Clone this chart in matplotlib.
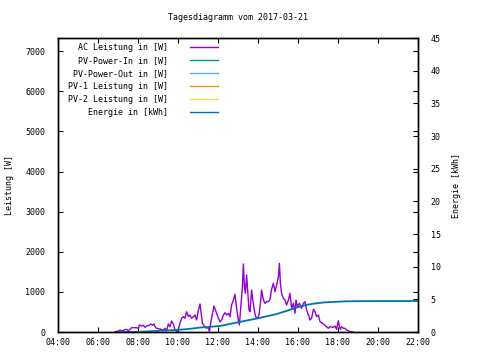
import matplotlib
matplotlib.use("Agg")
import matplotlib.pyplot as plt
from matplotlib.lines import Line2D

title = "Tagesdiagramm vom 2017-03-21"
series_names = ["AC Leistung in [W]", "PV-Power-In in [W]", "PV-Power-Out in [W]",
                "PV-1 Leistung in [W]", "PV-2 Leistung in [W]", "Energie in [kWh]"]
series_colors = ["#9400d3", "#009e73", "#56b4e9", "#e69f00", "#f0e442", "#0072b2"]

x_ticks = [4, 6, 8, 10, 12, 14, 16, 18, 20, 22]
x_ticklabels = ["04:00", "06:00", "08:00", "10:00", "12:00", "14:00", "16:00", "18:00", "20:00", "22:00"]
y1_ticks = [0, 1000, 2000, 3000, 4000, 5000, 6000, 7000]
y2_ticks = [0, 5, 10, 15, 20, 25, 30, 35, 40, 45]

ac_hours = [6.85, 7.02, 7.1, 7.18, 7.3, 7.43, 7.52, 7.6, 7.68, 7.93, 8.02, 8.07, 8.18, 8.27, 8.35,
            8.43, 8.57, 8.63, 8.73, 8.8, 8.85, 8.93, 9.1, 9.27, 9.35, 9.43, 9.52, 9.6, 9.68, 9.77,
            9.85, 9.93, 10.02, 10.1, 10.18, 10.27, 10.35, 10.43, 10.52, 10.6, 10.68, 10.77, 10.85,
            10.93, 11.02, 11.1, 11.15, 11.22, 11.35, 11.43, 11.52, 11.57, 11.63, 11.73, 11.8, 11.9,
            12.02, 12.1, 12.18, 12.27, 12.35, 12.43, 12.52, 12.6, 12.68, 12.77, 12.85, 12.93, 13.02,
            13.07, 13.13, 13.22, 13.27, 13.32, 13.37, 13.43, 13.48, 13.55, 13.6, 13.68, 13.73, 13.8,
            13.88, 13.97, 14.05, 14.13, 14.18, 14.27, 14.35, 14.43, 14.52, 14.6, 14.68, 14.77, 14.85,
            14.93, 15.02, 15.07, 15.12, 15.18, 15.27, 15.35, 15.43, 15.52, 15.6, 15.68, 15.77, 15.85,
            15.9, 15.97, 16.07, 16.18, 16.27, 16.35, 16.43, 16.52, 16.6, 16.68, 16.77, 16.85, 16.93,
            17.02, 17.1, 17.27, 17.43, 17.52, 17.6, 17.77, 17.85, 17.93, 18.02, 18.07, 18.13, 18.18,
            18.27, 18.35, 18.43, 18.52, 18.6, 18.68, 18.77]
ac_watts = [7, 25, 50, 25, 50, 67, 25, 67, 107, 107, 92, 175, 150, 167, 117,
            150, 167, 200, 167, 200, 132, 92, 75, 50, 92, 32, 200, 132, 275, 200,
            50, 7, 75, 217, 342, 382, 342, 506, 382, 424, 342, 382, 424,
            300, 549, 698, 506, 217, 117, 92, 117, 7, 217, 466, 648, 506,
            342, 257, 300, 424, 481, 424, 466, 382, 673, 798, 940, 591, 300,
            175, 549, 1130, 1696, 1130, 965, 1422, 1047, 549, 506, 1047, 840, 591,
            382, 342, 424, 756, 1047, 798, 716, 756, 756, 815, 1065, 1215, 1005,
            1172, 1380, 1713, 1215, 965, 840, 798, 673, 798, 965, 591, 716, 466,
            798, 631, 716, 591, 716, 756, 549, 424, 300, 342, 566, 506, 382,
            424, 257, 200, 132, 92, 132, 117, 150, 67, 282, 132, 67, 132,
            92, 92, 50, 32, 7, 0, 0]

pv_in_hours, pv_in_watts = [], []
pv_out_hours, pv_out_watts = [], []
pv1_hours, pv1_watts = [], []
pv2_hours, pv2_watts = [], []

energy_hours = [7.0, 8.0, 8.85, 9.85, 10.5, 11.1, 12.1, 13.1, 14.0, 14.93, 15.6, 16.1, 16.6,
                16.93, 17.35, 18.35, 19.0, 22.0]
energy_kwh = [0.0, 0.02, 0.15, 0.3, 0.45, 0.68, 0.92, 1.55, 2.1, 2.75, 3.4, 3.9, 4.25,
              4.4, 4.54, 4.69, 4.72, 4.74]

FONT = "DejaVu Sans Mono"
FS = 6.0

fig = plt.figure(figsize=(4.8, 3.6), dpi=100)
ax = fig.add_axes([58/480, 28/360, 360/480, 294/360])
ax2 = ax.twinx()

ax.plot(pv_in_hours, pv_in_watts, color=series_colors[1], lw=1)
ax.plot(pv_out_hours, pv_out_watts, color=series_colors[2], lw=1)
ax.plot(pv1_hours, pv1_watts, color=series_colors[3], lw=1)
ax.plot(pv2_hours, pv2_watts, color=series_colors[4], lw=1)
ax.plot(ac_hours, ac_watts, color=series_colors[0], lw=1)
ax2.plot(energy_hours, energy_kwh, color=series_colors[5], lw=1.3)

ax.set_xlim(4, 22)
ax.set_ylim(0, 7330)
ax2.set_ylim(0, 45)

ax.set_xticks(x_ticks)
ax.set_xticklabels(x_ticklabels, fontfamily=FONT, fontsize=FS)
ax.set_yticks(y1_ticks)
ax.set_yticklabels([str(v) for v in y1_ticks], fontfamily=FONT, fontsize=FS)
ax2.set_yticks(y2_ticks)
ax2.set_yticklabels([str(v) for v in y2_ticks], fontfamily=FONT, fontsize=FS)

ax.tick_params(axis="both", direction="in", length=3.5, width=0.8, top=True, right=True)
ax.tick_params(axis="y", pad=9)
ax.tick_params(axis="x", pad=4)
ax2.tick_params(axis="y", direction="in", length=3.5, width=0.8, pad=9)

for a in (ax, ax2):
    for s in a.spines.values():
        s.set_linewidth(1.0)
        s.set_color("black")

ax.set_ylabel("Leistung [W]", fontfamily=FONT, fontsize=FS, labelpad=8)
ax2.set_ylabel("Energie [kWh]", fontfamily=FONT, fontsize=FS, labelpad=8)
fig.text(238/480, 1 - 18/360, title, ha="center", va="center", fontfamily=FONT, fontsize=FS)

rows_y = [0.969, 0.924, 0.880, 0.836, 0.792, 0.748]
for name, col, yy in zip(series_names, series_colors, rows_y):
    ax.text(0.3056, yy, name, transform=ax.transAxes, ha="right", va="center",
            fontfamily=FONT, fontsize=FS)
    ax.add_line(Line2D([0.3667, 0.4444], [yy, yy], transform=ax.transAxes, color=col, lw=1))

fig.savefig("out.png", dpi=100)
